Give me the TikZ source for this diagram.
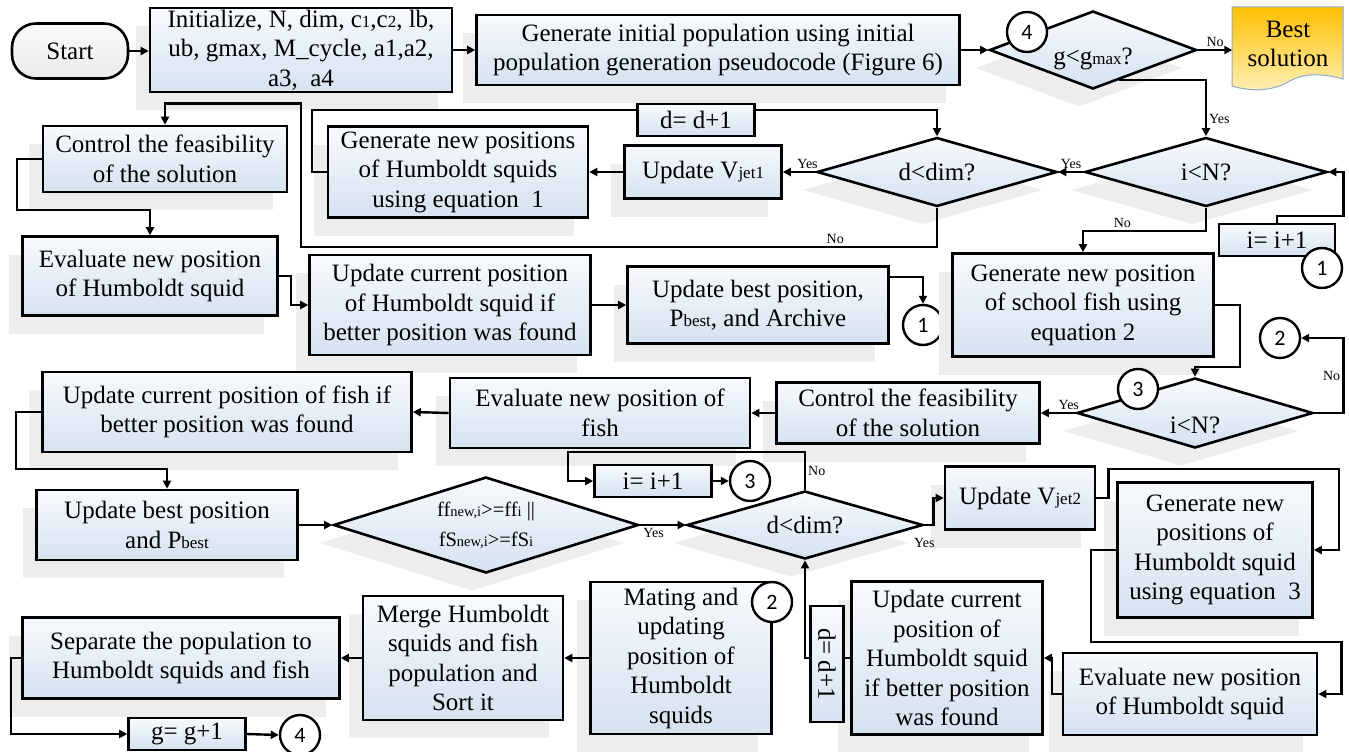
\documentclass[tikz,border=0pt]{standalone}
\usepackage{fontspec}
\setmainfont{Liberation Serif}
\newfontfamily\carlito{Carlito}
\usetikzlibrary{shapes.geometric,arrows.meta,positioning,calc,shadows}

\definecolor{boxtop}{HTML}{F7FAFD}
\definecolor{boxbot}{HTML}{D5E2F0}
\definecolor{shadowgray}{HTML}{EDEDED}
\definecolor{besttop}{HTML}{FFC000}
\definecolor{bestbot}{HTML}{FFF0B8}
\definecolor{bestedge}{HTML}{8FAACC}

\newcommand{\lowsub}[2][17]{{\fontsize{#1}{#1}\selectfont #2}}

\tikzset{
  mainfont/.style={font=\fontsize{25}{29.5}\selectfont},
  filled/.style={draw, line width=2.6pt, top color=boxtop, bottom color=boxbot},
  shadowed/.style={drop shadow={shadow xshift=-14pt, shadow yshift=-18pt, fill=shadowgray, opacity=1}},
  procbox/.style={filled, shadowed, mainfont, align=center, inner sep=2pt},
  smallbox/.style={filled, mainfont, align=center, inner sep=1pt, minimum width=117pt, minimum height=32pt},
  decision/.style={filled, shadowed, mainfont, diamond, align=center, inner sep=0pt},
  terminal/.style={draw, line width=2.6pt, rounded corners=24pt, top color=gray!4, bottom color=gray!16, mainfont},
  connector/.style={circle, draw, fill=white, line width=2.4pt, minimum size=40pt, inner sep=0pt, font=\carlito\fontsize{22}{22}\selectfont},
  flow/.style={line width=2.4pt, -{Triangle[length=8pt,width=8pt]}},
  lbl/.style={font=\fontsize{14}{14}\selectfont, inner sep=2pt}
}

\begin{document}
\begin{tikzpicture}[x=1pt,y=-1pt]
\useasboundingbox (0,0) rectangle (1349,752);

% Row 1
\node[terminal, minimum width=116pt, minimum height=55pt] (start) at (70,51) {Start};
\node[procbox, minimum width=302pt, minimum height=84pt] (init) at (301,50) {Initialize, N, dim, c\lowsub{1},c\lowsub{2}, lb,\\ ub, gmax, M\_cycle, a1,a2,\\ a3,~ a4};
\node[procbox, minimum width=483pt, minimum height=70pt] (geninit) at (718,50) {Generate initial population using initial\\ population generation pseudocode (Figure 6)};
\node[decision, aspect=2.65, minimum width=207pt, minimum height=78pt] (gmax) at (1093,50) {\raisebox{-14pt}[0pt][0pt]{g<g\lowsub{max}?}};
\node[connector] (c4top) at (1027,32) {4};
\shade[top color=besttop, bottom color=bestbot, draw=bestedge, line width=1pt]
  (1232,7) -- (1343,7) -- (1343,79) .. controls (1318,72) and (1302,74) .. (1288,82)
  .. controls (1272,91) and (1252,92) .. (1232,86) -- cycle;
\node[mainfont, align=center, inner sep=0pt, minimum width=111pt, minimum height=78pt] (best) at (1288,44) {Best\\solution};

% Row 2
\node[procbox, minimum width=244pt, minimum height=66pt] (ctrl1) at (165,159) {Control the feasibility\\ of the solution};
\node[procbox, minimum width=260pt, minimum height=91pt] (gen1) at (458,172) {Generate new positions\\ of Humboldt squids\\ using equation~ 1};
\node[procbox, minimum width=157pt, minimum height=53pt] (vjet1) at (703,172) {Update V\lowsub{jet1}};
\node[decision, aspect=3.5, minimum width=240pt, minimum height=69pt] (ddim1) at (937,172) {d<dim?};
\node[decision, aspect=3.5, minimum width=242pt, minimum height=69pt] (inN1) at (1206,172) {i<N?};
\node[smallbox, minimum width=116pt] (incr1) at (1277,240) {i= i+1};
\node[connector] (c1right) at (1322,268) {1};

% Row 3
\node[procbox, minimum width=255pt, minimum height=79pt] (eval1) at (150,276) {Evaluate new position\\ of Humboldt squid};
\node[procbox, minimum width=281pt, minimum height=100pt] (ucur1) at (450,305) {Update current position\\ of Humboldt squid if\\ better position was found};
\node[procbox, minimum width=261pt, minimum height=77pt] (ubest1) at (758,305) {Update best position,\\ P\lowsub{best}, and Archive};
\node[connector] (c1mid) at (923,325) {1};
\node[procbox, minimum width=261pt, minimum height=103pt] (genfish) at (1083,305) {Generate new position\\ of school fish using\\ equation 2};
\node[connector] (c2right) at (1280,338) {2};

% Row 4
\node[decision, aspect=3.4, minimum width=236pt, minimum height=70pt] (inN2) at (1195,413) {\raisebox{-20pt}[0pt][0pt]{i<N?}};
\node[connector] (c3right) at (1138,389) {3};
\node[procbox, minimum width=263pt, minimum height=61pt] (ctrl2) at (908,413) {Control the feasibility\\ of the solution};
\node[procbox, minimum width=300pt, minimum height=70pt] (evalfish) at (600,413) {Evaluate new position of\\ fish};
\node[procbox, minimum width=369pt, minimum height=80pt] (ucurfish) at (227,412) {Update current position of fish if\\ better position was found};

% Row 5
\node[procbox, minimum width=261pt, minimum height=70pt] (ubest2) at (167,525) {Update best position\\ and P\lowsub{best}};
\node[decision, aspect=3.2, minimum width=305pt, minimum height=96pt, font=\fontsize{20.5}{30}\selectfont] (ffd) at (486,525) {ff\lowsub[14.5]{new,i}>=ff\lowsub[14.5]{i} ||\\ fS\lowsub[14.5]{new,i}>=fS\lowsub[14.5]{i}};
\node[decision, aspect=3.5, minimum width=236pt, minimum height=68pt] (ddim2) at (805,525) {d<dim?};
\node[smallbox] (incr2) at (653,481) {i= i+1};
\node[connector] (c3mid) at (750,481) {3};
\node[procbox, minimum width=150pt, minimum height=63pt] (vjet2) at (1020,498) {Update V\lowsub{jet2}};
\node[procbox, minimum width=195pt, minimum height=135pt] (gen3) at (1215,550) {Generate new\\ positions of\\ Humboldt squid\\ using equation~ 3};

% Row 6
\node[procbox, minimum width=254pt, minimum height=82pt] (eval2) at (1190,694) {Evaluate new position\\ of Humboldt squid};
\node[procbox, minimum width=191pt, minimum height=153pt] (ucur2) at (947,658) {Update current\\ position of\\ Humboldt squid\\ if better position\\ was found};
\node[procbox, minimum width=181pt, minimum height=152pt] (mating) at (681,658) {Mating and\\ updating\\ position of\\ Humboldt\\ squids};
\node[connector] (c2mid) at (772,602) {2};
\node[procbox, minimum width=200pt, minimum height=124pt] (merge) at (463,658) {Merge Humboldt\\ squids and fish\\ population and\\ Sort it};
\node[procbox, minimum width=317pt, minimum height=81pt] (separate) at (181,658) {Separate the population to\\ Humboldt squids and fish};
\node[smallbox] (gincr) at (187,734) {g= g+1};
\node[connector] (c4bot) at (300,735) {4};

% Links, top part
\draw[flow] (start.east) -- (init.west |- start.east);
\draw[flow] (init.east) -- (geninit.west);
\draw[flow] (geninit.east) -- (gmax.west);
\draw[flow] (gmax.east) -- node[lbl, above] {No} (gmax.east -| best.west);
\draw[flow] ($(gmax.south)!0.25!(gmax.east)$) -| node[lbl, right, pos=0.85] {Yes} (inN1.north);
\draw[flow] (inN1.west) -- node[lbl, above] {Yes} (ddim1.east);
\draw[flow] (ddim1.west) -- node[lbl, above, pos=0.25] {Yes} (vjet1.east);
\draw[flow] (vjet1.west) -- (gen1.east);
\draw[flow] (gen1.west) -- ++(-15,0) |- ([yshift=26pt]ddim1.north) -- (ddim1.north);
\draw[flow] (ddim1.south) -- ++(0,39) -| node[lbl, above, pos=0.08] {No} ([yshift=-10pt]init.south) -| (ctrl1.north);
\draw[flow] (ctrl1.west) -- ++(-25,0) |- ([yshift=25pt]eval1.north) -- (eval1.north);
\draw[flow] (eval1.east) -- ++(12,0) |- (ucur1.west);
\draw[flow] (ucur1.east) -- (ubest1.west);
\draw[flow] ([yshift=28pt]ubest1.east) -| (c1mid.north);
\draw[flow] (inN1.south) -- ++(0,23) -| node[lbl, above, pos=0.34] {No} (genfish.north);
\draw[flow] (incr1.north) -- ++(0,-7) -| ([xshift=15pt]inN1.east) -- (inN1.east);

% Links, fish part
\draw[flow] (genfish.east) -- ++(25,0) |- ([yshift=10pt]inN2.north) -- (inN2.north);
\draw[flow] (inN2.east) -- ++(29,0) |- node[lbl, left, pos=0.25] {No} (c2right.east);
\draw[flow] (inN2.west) -- node[lbl, above, pos=0.2] {Yes} (ctrl2.east);
\draw[flow] (ctrl2.west) -- (evalfish.east);
\draw[flow] (evalfish.west) -- (ucurfish.east);
\draw[flow] (ucurfish.west) -- ++(-25,0) |- ([yshift=20pt]ubest2.north) -- (ubest2.north);
\draw[flow] (ubest2.east) -- (ffd.west);
\draw[flow] (ffd.east) -- node[lbl, below, pos=0.3] {Yes} (ddim2.west);
\draw[flow] (ddim2.north) -- node[lbl, right] {No} ++(0,-38) -| ([xshift=-25pt]incr2.west) -- (incr2.west);
\draw[flow] (incr2.east) -- (c3mid.west);
\draw[flow] (ddim2.east) -- node[lbl, below=10pt, pos=0] {Yes} ++(9,0) |- (vjet2.west);

% Links, squid update part
\draw[flow] (vjet2.east) -- ++(12,0) |- ([xshift=25pt,yshift=12pt]gen3.north east) |- (gen3.east);
\draw[flow] (gen3.west) -- ++(-25,0) |- ([xshift=23pt,yshift=10pt]eval2.north east) |- (eval2.east);
\draw[flow] (eval2.west) -- ++(-10,0) |- (ucur2.east);
\draw[flow] (ucur2.west) -| (ddim2.south);
\draw[flow] (mating.west) -- (merge.east);
\draw[flow] (merge.west) -- (separate.east);
\draw[flow] (separate.west) -- ++(-10,0) |- (gincr.west);
\draw[flow] (gincr.east) -- (c4bot.west);

% Counters sitting on the loop lines
\node[smallbox] (dinc1) at (696,120) {d= d+1};
\node[smallbox, rotate=-90, minimum width=116pt, minimum height=33pt] (dinc2) at (827,664) {d= d+1};
\end{tikzpicture}
\end{document}
